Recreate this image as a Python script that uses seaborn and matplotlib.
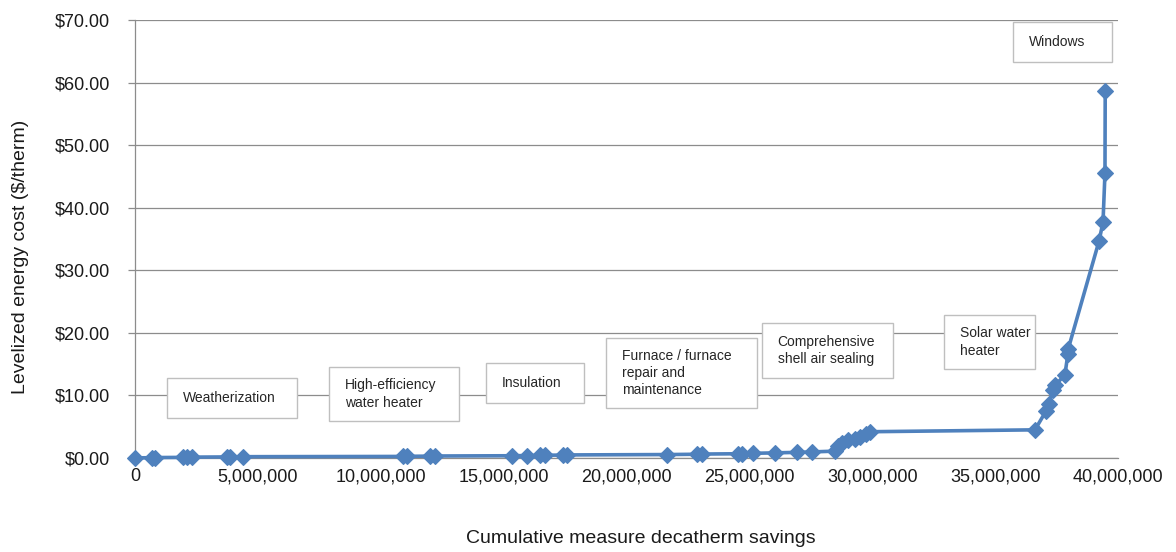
import matplotlib
matplotlib.use("Agg")
import matplotlib.pyplot as plt
import matplotlib.ticker as mticker
from matplotlib.patches import Rectangle
import seaborn as sns
import pandas as pd

# Supply curve: cumulative savings (decatherms) vs levelized cost ($/therm)
savings = [
    0, 680_000, 810_000, 1_950_000, 2_100_000, 2_310_000, 3_730_000, 3_870_000,
    4_390_000, 10_910_000, 11_070_000, 12_000_000, 12_210_000, 15_330_000,
    15_940_000, 16_480_000, 16_680_000, 17_430_000, 17_570_000, 21_640_000,
    22_860_000, 23_060_000, 24_550_000, 24_690_000, 25_160_000, 26_040_000,
    26_930_000, 27_540_000, 28_500_000, 28_610_000, 28_770_000, 29_010_000,
    29_300_000, 29_500_000, 29_740_000, 29_910_000, 36_620_000, 37_070_000,
    37_190_000, 37_360_000, 37_440_000, 37_840_000, 37_960_000, 37_980_000,
    39_230_000, 39_390_000, 39_470_000, 39_480_000,
]
cost = [
    0.02, 0.05, 0.07, 0.10, 0.12, 0.14, 0.17, 0.19,
    0.21, 0.25, 0.27, 0.30, 0.32, 0.36,
    0.39, 0.42, 0.44, 0.47, 0.49, 0.55,
    0.60, 0.63, 0.68, 0.71, 0.75, 0.82,
    0.90, 0.97, 1.10, 1.90, 2.40, 2.80,
    3.10, 3.40, 3.80, 4.20, 4.50, 7.50,
    8.60, 10.80, 11.60, 13.30, 16.60, 17.50,
    34.70, 37.70, 45.50, 58.60,
]

y_ticks = [0, 10, 20, 30, 40, 50, 60, 70]
x_ticks = [0, 5_000_000, 10_000_000, 15_000_000, 20_000_000,
           25_000_000, 30_000_000, 35_000_000, 40_000_000]

measure_labels = [
    "Weatherization",
    "High-efficiency\nwater heater",
    "Insulation",
    "Furnace / furnace\nrepair and\nmaintenance",
    "Comprehensive\nshell air sealing",
    "Solar water\nheater",
    "Windows",
]
# label boxes in axes fractions: (left, bottom, right, top)
label_boxes = [
    (0.0326, 0.0913, 0.1648, 0.1826),
    (0.1974, 0.0845, 0.3296, 0.2078),
    (0.3571, 0.1256, 0.4568, 0.2169),
    (0.4792, 0.1142, 0.6328, 0.2740),
    (0.6378, 0.1826, 0.7711, 0.3082),
    (0.8230, 0.2032, 0.9156, 0.3265),
    (0.8932, 0.9041, 0.9939, 0.9954),
]

sns.set_style("white")
plt.rcParams["font.family"] = ["Liberation Sans", "DejaVu Sans"]

fig = plt.figure(figsize=(11.76, 5.52), dpi=100)
ax = fig.add_axes([135 / 1176, 94 / 552, 983 / 1176, 438 / 552])

df = pd.DataFrame({"savings": savings, "cost": cost})
sns.lineplot(data=df, x="savings", y="cost", ax=ax, sort=False, estimator=None,
             color="#4F81BD", linewidth=2.6, marker="D", markersize=8,
             markeredgecolor="#4F81BD", markeredgewidth=0.8, zorder=5,
             clip_on=False)

ax.set_xlim(0, 40_000_000)
ax.set_ylim(0, 70)
ax.set_yticks(y_ticks)
ax.set_xticks(x_ticks)
ax.yaxis.set_major_formatter(mticker.FuncFormatter(lambda v, p: f"${v:.2f}"))
ax.xaxis.set_major_formatter(mticker.FuncFormatter(lambda v, p: f"{v:,.0f}"))

grid_col = "#8C8C8C"
ax.yaxis.grid(True, color=grid_col, linewidth=0.9)
ax.xaxis.grid(False)
for s in ["top", "right"]:
    ax.spines[s].set_visible(False)
for s in ["left", "bottom"]:
    ax.spines[s].set_color(grid_col)
    ax.spines[s].set_linewidth(0.9)
ax.tick_params(axis="y", which="major", left=True, length=5, width=0.9,
               color=grid_col, pad=13, labelsize=13, labelcolor="#1a1a1a")
ax.tick_params(axis="x", which="major", bottom=False, pad=4, labelsize=13,
               labelcolor="#1a1a1a")

ax.set_xlabel("Cumulative measure decatherm savings", fontsize=14,
              color="#1a1a1a", labelpad=30)
ax.set_ylabel("Levelized energy cost ($/therm)", fontsize=14,
              color="#1a1a1a", labelpad=14)
ax.xaxis.set_label_coords(0.515, -0.165)
ax.yaxis.set_label_coords(-0.108, 0.459)

for text, (x0, y0, x1, y1) in zip(measure_labels, label_boxes):
    ax.add_patch(Rectangle((x0, y0), x1 - x0, y1 - y0, transform=ax.transAxes,
                           facecolor="white", edgecolor="#BFBFBF",
                           linewidth=1.0, zorder=6, clip_on=False))
    ax.text(x0 + 0.016, (y0 + y1) / 2, text, transform=ax.transAxes,
            ha="left", va="center", fontsize=10, color="#262626",
            linespacing=1.3, zorder=7)

fig.savefig("out.png", dpi=100)
